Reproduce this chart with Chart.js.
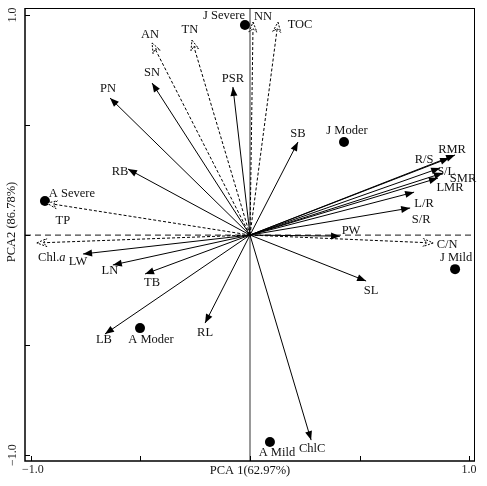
<!DOCTYPE html>
<html>
<head>
<meta charset="utf-8">
<script src="https://cdn.jsdelivr.net/npm/chart.js@4/dist/chart.umd.min.js"></script>
<style>
html,body{margin:0;padding:0;background:#fff;}
#wrap{width:487px;height:486px;}
</style>
</head>
<body>
<div id="wrap"><canvas id="c" width="487" height="486"></canvas></div>
<script>
// ---- data ----
const solidNames = ['PN','SN','PSR','RB','SB','RMR','R/S','S/L','SMR','LMR','L/R','S/R','PW','SL','ChlC','RL','LB','TB','LN','LW'];
const solidX = [-0.639,-0.447,-0.078,-0.557,0.219,0.936,0.909,0.868,0.881,0.858,0.749,0.731,0.411,0.530,0.279,-0.205,-0.662,-0.479,-0.626,-0.762];
const solidY = [0.623,0.691,0.673,0.300,0.423,0.364,0.350,0.305,0.282,0.259,0.195,0.123,-0.005,-0.209,-0.932,-0.400,-0.450,-0.177,-0.136,-0.086];

const dashedNames = ['AN','TN','NN','TOC','TP','Chl.a','C/N'];
const dashedX = [-0.447,-0.265,0.014,0.128,-0.927,-0.973,0.836];
const dashedY = [0.873,0.886,0.968,0.968,0.145,-0.036,-0.036];

const sampleNames = ['J Severe','J Moder','J Mild','A Severe','A Moder','A Mild'];
const sampleX = [-0.023,0.429,0.936,-0.936,-0.502,0.091];
const sampleY = [0.955,0.423,-0.155,0.155,-0.423,-0.941];

const xTickValues = [-1.0,-0.5,0,0.5,1.0];
const yTickValues = [-1.0,-0.5,0,0.5,1.0];
const xTickLabels = {'-1':'\u22121.0','1':'1.0'};
const yTickLabels = {'-1':'\u22121.0','1':'1.0'};
const xTitle = 'PCA 1(62.97%)';
const yTitle = 'PCA2 (86.78%)';

// ---- label placement (pixel offsets from tip, style only) ----
const labelOffset = {
  'PN':[-2,-9],'SN':[0,-10],'PSR':[0,-8],'RB':[-8,3],'SB':[0,-8],
  'RMR':[-3,-5],'R/S':[-25,2],'S/L':[6,4],'SMR':[20,6],'LMR':[12,10],
  'L/R':[10,12],'S/R':[11,12],'PW':[11,-5],'SL':[5,10],'ChlC':[1,9],
  'RL':[0,10],'LB':[-1,6],'TB':[7,9],'LN':[-3,6],'LW':[-5,8],
  'AN':[-2,-8],'TN':[-2,-10],'NN':[10,-5],'TOC':[22,3],'TP':[16,18],
  'Chl.a':[15,15],'C/N':[14,2],
  'J Severe':[-21,-9],'J Moder':[3,-11],'J Mild':[1,-11],
  'A Severe':[27,-7],'A Moder':[11,12],'A Mild':[7,11]
};

const FONT = '12.5px "Liberation Serif", "Times New Roman", serif';
const IFONT = 'italic 12.5px "Liberation Serif", "Times New Roman", serif';

const datasets = [];
solidNames.forEach((n,i)=>{
  datasets.push({label:n, kind:'solid', data:[{x:0,y:0},{x:solidX[i],y:solidY[i]}],
    showLine:true, borderColor:'#000', borderWidth:1, pointRadius:0, fill:false});
});
dashedNames.forEach((n,i)=>{
  datasets.push({label:n, kind:'dashed', data:[{x:0,y:0},{x:dashedX[i],y:dashedY[i]}],
    showLine:true, borderColor:'#000', borderWidth:1, borderDash:[3,2], pointRadius:0, fill:false});
});
datasets.push({label:'samples', kind:'samples',
  data: sampleX.map((x,i)=>({x:x,y:sampleY[i]})),
  showLine:false, pointRadius:5, pointHoverRadius:5, backgroundColor:'#000', borderColor:'#000', borderWidth:0});

const frame = {
  id:'frame',
  beforeDatasetsDraw(chart){
    const {ctx, chartArea:a, scales:{x,y}} = chart;
    ctx.save();
    // vertical reference line
    const x0 = x.getPixelForValue(0), y0 = y.getPixelForValue(0);
    ctx.strokeStyle = '#777'; ctx.lineWidth = 1.5; ctx.setLineDash([]);
    ctx.beginPath(); ctx.moveTo(x0, a.top); ctx.lineTo(x0, a.bottom); ctx.stroke();
    // horizontal dashed reference line
    ctx.strokeStyle = '#444'; ctx.lineWidth = 1.2; ctx.setLineDash([6,4]);
    ctx.beginPath(); ctx.moveTo(a.left, y0); ctx.lineTo(a.right, y0); ctx.stroke();
    ctx.restore();
  },
  afterDatasetsDraw(chart){
    const {ctx, chartArea:a, scales:{x,y}} = chart;
    ctx.save();
    // arrowheads
    chart.data.datasets.forEach((ds,di)=>{
      if(ds.kind!=='solid' && ds.kind!=='dashed') return;
      const meta = chart.getDatasetMeta(di);
      const p0 = meta.data[0], p1 = meta.data[1];
      const ang = Math.atan2(p1.y-p0.y, p1.x-p0.x);
      const L = ds.kind==='solid'?9:10, W = ds.kind==='solid'?3.5:4;
      const bx = p1.x - L*Math.cos(ang), by = p1.y - L*Math.sin(ang);
      const nx = -Math.sin(ang)*W, ny = Math.cos(ang)*W;
      ctx.beginPath();
      ctx.moveTo(p1.x,p1.y);
      ctx.lineTo(bx+nx,by+ny);
      if(ds.kind==='dashed') ctx.lineTo(bx+0.35*L*Math.cos(ang), by+0.35*L*Math.sin(ang));
      ctx.lineTo(bx-nx,by-ny);
      ctx.closePath();
      if(ds.kind==='solid'){
        ctx.fillStyle='#000'; ctx.fill();
      } else {
        ctx.fillStyle='#fff'; ctx.fill();
        ctx.setLineDash([2,1.5]); ctx.strokeStyle='#000'; ctx.lineWidth=1; ctx.stroke();
        ctx.setLineDash([]);
      }
    });
    // labels
    ctx.fillStyle='#111'; ctx.textAlign='center'; ctx.textBaseline='middle';
    const drawLabel=(name,px,py)=>{
      const o = labelOffset[name]||[0,-8];
      const cx = px+o[0], cy = py+o[1];
      if(name==='Chl.a'){
        ctx.font=FONT; const w1=ctx.measureText('Chl.').width;
        ctx.font=IFONT; const w2=ctx.measureText('a').width;
        const sx = cx-(w1+w2)/2;
        ctx.textAlign='left';
        ctx.font=FONT; ctx.fillText('Chl.',sx,cy);
        ctx.font=IFONT; ctx.fillText('a',sx+w1,cy);
        ctx.textAlign='center';
      } else {
        ctx.font=FONT; ctx.fillText(name,cx,cy);
      }
    };
    chart.data.datasets.forEach((ds,di)=>{
      const meta = chart.getDatasetMeta(di);
      if(ds.kind==='samples'){
        meta.data.forEach((pt,i)=>drawLabel(sampleNames[i],pt.x,pt.y));
      } else {
        const p1 = meta.data[1];
        drawLabel(ds.label,p1.x,p1.y);
      }
    });
    // border
    ctx.strokeStyle='#000'; ctx.setLineDash([]);
    ctx.lineWidth=1;
    ctx.beginPath(); ctx.moveTo(a.left,a.top+0.5); ctx.lineTo(a.right,a.top+0.5); ctx.stroke();
    ctx.beginPath(); ctx.moveTo(a.right-0.5,a.top); ctx.lineTo(a.right-0.5,a.bottom); ctx.stroke();
    ctx.lineWidth=1.5;
    ctx.beginPath(); ctx.moveTo(a.left,a.top); ctx.lineTo(a.left,a.bottom); ctx.lineTo(a.right,a.bottom); ctx.stroke();
    // ticks
    ctx.lineWidth=1;
    xTickValues.forEach(v=>{
      const px=Math.round(x.getPixelForValue(v))+0.5;
      ctx.beginPath(); ctx.moveTo(px,a.bottom); ctx.lineTo(px,a.bottom-5); ctx.stroke();
    });
    yTickValues.forEach(v=>{
      const py=Math.round(y.getPixelForValue(v))+0.5;
      ctx.beginPath(); ctx.moveTo(a.left,py); ctx.lineTo(a.left+5,py); ctx.stroke();
    });
    // tick labels
    ctx.font='12px "Liberation Serif", "Times New Roman", serif';
    ctx.fillStyle='#222'; ctx.textAlign='center'; ctx.textBaseline='middle';
    xTickValues.forEach(v=>{
      const t = xTickLabels[String(v)]; if(!t) return;
      ctx.fillText(t, x.getPixelForValue(v)+(v<0?2:0), a.bottom+9);
    });
    yTickValues.forEach(v=>{
      const t = yTickLabels[String(v)]; if(!t) return;
      ctx.save(); ctx.translate(13, y.getPixelForValue(v)); ctx.rotate(-Math.PI/2);
      ctx.fillText(t,0,0); ctx.restore();
    });
    // axis titles
    ctx.font=FONT; ctx.fillStyle='#111';
    ctx.fillText(xTitle, 250, a.bottom+10);
    ctx.save(); ctx.translate(12, 222); ctx.rotate(-Math.PI/2);
    ctx.fillText(yTitle,0,0); ctx.restore();
    ctx.restore();
  }
};

new Chart(document.getElementById('c'), {
  type:'scatter',
  data:{datasets},
  options:{
    responsive:false, animation:false,
    layout:{padding:{left:25,top:8,right:12,bottom:25}},
    plugins:{legend:{display:false}, tooltip:{enabled:false}},
    scales:{
      x:{type:'linear', min:-1.027, max:1.027, display:false},
      y:{type:'linear', min:-1.027, max:1.032, display:false}
    }
  },
  plugins:[frame]
});
</script>
</body>
</html>
